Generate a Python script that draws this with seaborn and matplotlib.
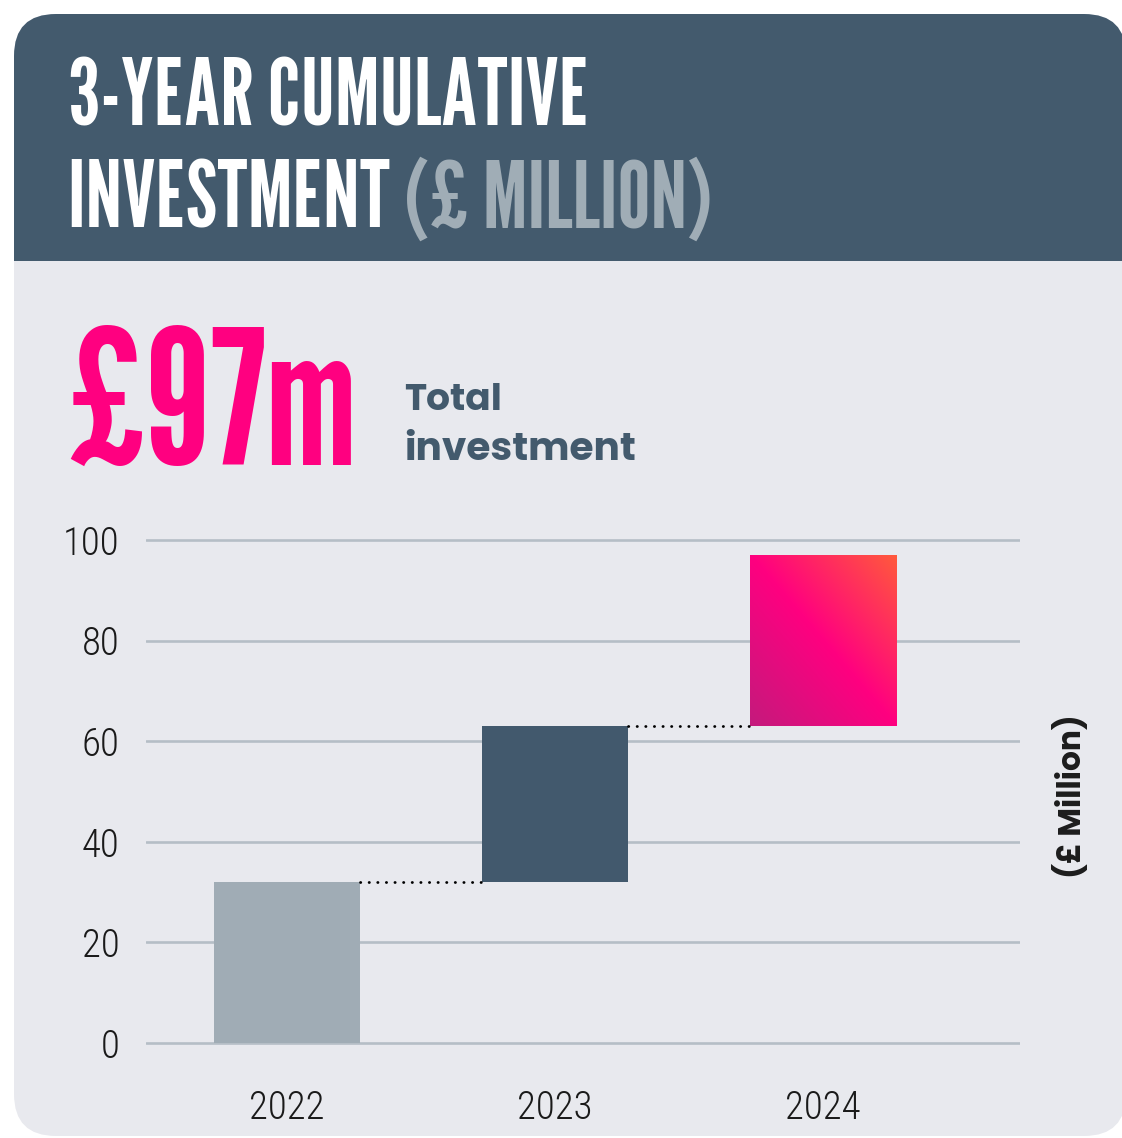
import numpy as np
import pandas as pd
import matplotlib
matplotlib.use("Agg")
import matplotlib.pyplot as plt
import seaborn as sns
from matplotlib.patches import FancyBboxPatch, Rectangle
from matplotlib.colors import LinearSegmentedColormap
from matplotlib.textpath import TextPath
from matplotlib.font_manager import FontProperties

# ---- data -------------------------------------------------------------
years = ["2022", "2023", "2024"]
annual = [32, 31, 34]                     # £ million added each year
bar_colors = ["#a0acb5", "#42596d", "#ff0080"]
y_ticks = [0, 20, 40, 60, 80, 100]

cumulative = np.cumsum(annual)            # running total
starts = cumulative - np.array(annual)    # where each year's block begins

# ---- styling ----------------------------------------------------------
W, H = 1122, 1138
CARD = "#e8e9ee"
SLATE = "#435a6d"
GRID = "#b5bec6"
DISPLAY = ["League Gothic", "Bebas Neue", "Oswald", "Roboto Condensed",
           "DejaVu Sans"]
TICKS = ["Roboto Condensed", "Roboto", "DejaVu Sans"]
BODY = ["Poppins", "Lato", "DejaVu Sans"]

sns.set_style("white")
plt.rcParams["font.family"] = ["Roboto", "DejaVu Sans"]

fig = plt.figure(figsize=(W / 100, H / 100), dpi=100)
fig.patch.set_facecolor("white")
renderer = fig.canvas.get_renderer()


def fx(x):
    return x / W


def fy(y):
    return 1 - y / H


def inch(x, y):
    return x / 100, (H - y) / 100


def fit_text(x, y, s, target_w, cap_px=None, **kw):
    """Place text at pixel (x, y); size it to span target_w pixels, balanced
    against a wanted capital height when one is given."""
    t = fig.text(fx(x), fy(y), s, fontsize=50, va="baseline", ha="left", **kw)
    w = t.get_window_extent(renderer).width
    size_w = 50 * target_w / w
    size = size_w
    if cap_px is not None:
        prop = FontProperties(family=kw.get("family"), weight=kw.get("weight"))
        cap = TextPath((0, 0), "H", size=100, prop=prop).get_extents().height / 100
        size_h = cap_px / cap * 72 / 100
        size = min(size_w * 1.12, size_h)
    t.set_fontsize(size)
    return t


# card background with rounded corners and a slate header band
card = FancyBboxPatch(inch(14, 1136), (1126 - 14) / 100, (1136 - 14) / 100,
                      boxstyle="round,pad=0,rounding_size=0.42",
                      transform=fig.dpi_scale_trans, facecolor=CARD,
                      edgecolor="none", zorder=0)
fig.add_artist(card)
header = FancyBboxPatch(inch(14, 320), (1126 - 14) / 100, (320 - 14) / 100,
                        boxstyle="round,pad=0,rounding_size=0.42",
                        transform=fig.dpi_scale_trans, facecolor=SLATE,
                        edgecolor="none", zorder=1)
fig.add_artist(header)
cover = Rectangle(inch(14, 340), (1126 - 14) / 100, (340 - 261) / 100,
                  transform=fig.dpi_scale_trans, facecolor=CARD,
                  edgecolor="none", zorder=2)
fig.add_artist(cover)

# ---- title ------------------------------------------------------------
t0 = fit_text(68, 125, "3-YEAR CUMULATIVE", 550, cap_px=68, color="white",
              family=DISPLAY, weight="bold", zorder=5)
title_size = t0.get_fontsize()
t1 = fig.text(fx(68), fy(228), "INVESTMENT ", color="white", family=DISPLAY,
              weight="bold", fontsize=title_size, va="baseline", ha="left",
              zorder=5)
bb = t1.get_window_extent(renderer)
fig.text(bb.x1 / W, fy(228), "(£ MILLION)", color="#a0adb6", family=DISPLAY,
         weight="bold", fontsize=title_size, va="baseline", ha="left", zorder=5)

# ---- headline figure --------------------------------------------------
fit_text(66, 465, f"£{cumulative[-1]}m", 304, cap_px=138, color="#ff0080",
         family=DISPLAY, weight="bold", zorder=5)
fit_text(404, 410, "Total", 98, color=SLATE, family=BODY, weight="bold",
         zorder=5)
fit_text(404, 460, "investment", 232, color=SLATE, family=BODY, weight="bold",
         zorder=5)

# ---- waterfall chart --------------------------------------------------
ylo, yhi = -2, 102
px_per_unit = (1043 - 540) / 100
ax_top = 540 - (yhi - 100) * px_per_unit
ax_bot = 1043 + (0 - ylo) * px_per_unit
ax = fig.add_axes([fx(146), fy(ax_bot), (1020 - 146) / W, (ax_bot - ax_top) / H])
ax.set_facecolor("none")
ax.set_zorder(4)

df = pd.DataFrame({"year": years, "annual": annual, "start": starts})
bar_w = 0.545
sns.barplot(data=df, x="year", y="annual", bottom=df["start"].to_numpy(),
            width=bar_w, color=bar_colors[0], saturation=1,
            edgecolor="none", linewidth=0, ax=ax, zorder=3)
bars = list(ax.patches)
for patch, c in zip(bars, bar_colors):
    patch.set_facecolor(c)

# diagonal gradient fill on the latest year's block
last = bars[-1]
x0, y0 = last.get_x(), last.get_y()
x1, y1 = x0 + last.get_width(), y0 + last.get_height()
u, v = np.meshgrid(np.linspace(0, 1, 300), np.linspace(0, 1, 300))
grad = (u + v) / 2
cmap = LinearSegmentedColormap.from_list(
    "magenta", [(0, "#c41a7c"), (0.5, "#ff0080"), (1, "#ff5a3c")])
img = ax.imshow(grad, cmap=cmap, extent=(x0, x1, y0, y1), origin="lower",
                aspect="auto", zorder=3.5, interpolation="bilinear")
img.set_clip_path(last)

# dotted connectors between running totals
for i in range(len(years) - 1):
    ax.plot([i + bar_w / 2, i + 1 - bar_w / 2], [cumulative[i]] * 2,
            color="black", lw=2.0, linestyle=(0, (0.1, 3.0)),
            dash_capstyle="round", zorder=4)

ax.set_xlim(-0.526, 2.735)
ax.set_ylim(ylo, yhi)
ax.set_yticks(y_ticks)
ax.set_yticklabels([str(t) for t in y_ticks])
ax.grid(axis="y", color=GRID, lw=1.9)
ax.grid(axis="x", visible=False)
ax.set_axisbelow(True)
for s in ax.spines.values():
    s.set_visible(False)
ax.tick_params(axis="y", length=0, pad=19, labelcolor="#1a1a1a")
ax.tick_params(axis="x", length=0, pad=26, labelcolor="#1a1a1a")
for lab in ax.get_xticklabels() + ax.get_yticklabels():
    lab.set_fontfamily(TICKS)
    lab.set_fontweight("light")
    lab.set_fontsize(28)
ax.set_xlabel("")
ax.set_ylabel("")

# unit label on the right
fig.text(fx(1071), fy(796), "(£ Million)", rotation=90, color="#1c1c1c",
         family=BODY, weight="bold", fontsize=22.5, ha="center", va="center",
         zorder=5)

fig.savefig("out.png", dpi=100, facecolor="white")
